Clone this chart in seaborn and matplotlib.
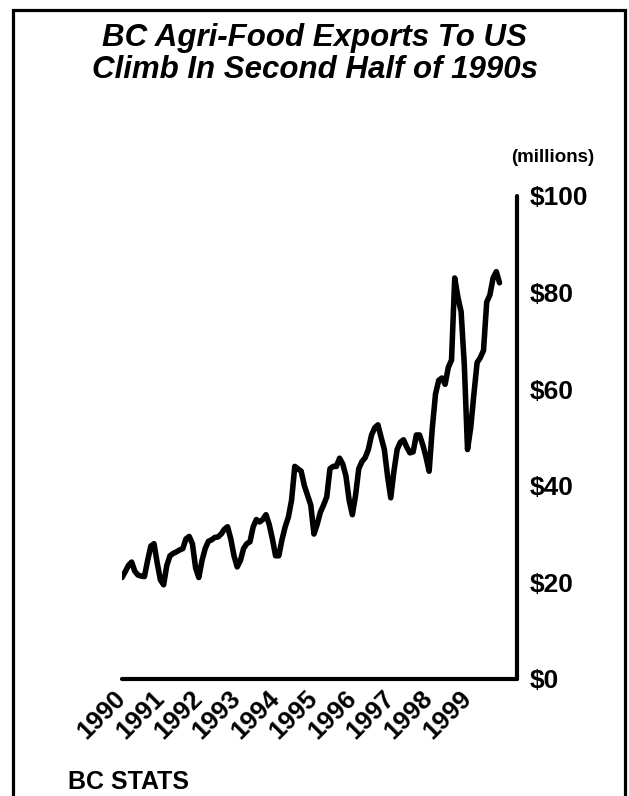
import numpy as np
import pandas as pd
import matplotlib
matplotlib.use("Agg")
import matplotlib.pyplot as plt
from matplotlib.patches import Rectangle
import seaborn as sns

# ---- data (monthly exports, $ millions) ----
exp_1990 = [21, 22.2, 23.5, 24.2, 22.3, 21.5, 21.3, 21.2, 24.5, 27.5, 28, 24]
exp_1991 = [20.5, 19.5, 23.5, 25.5, 26, 26.3, 26.7, 27, 29, 29.5, 28, 23]
exp_1992 = [21, 24.5, 27, 28.5, 28.8, 29.3, 29.4, 30, 31, 31.5, 29, 25.5]
exp_1993 = [23.2, 24.5, 27, 28, 28.4, 31.5, 33, 32.5, 33, 34, 32, 29]
exp_1994 = [25.5, 25.5, 28.8, 31.5, 33.5, 37, 44, 43.5, 43, 40, 38, 36]
exp_1995 = [30, 32, 34.5, 36, 37.7, 43.5, 44, 44, 45.7, 44.5, 42, 37]
exp_1996 = [34, 38, 43.5, 45, 45.8, 47.5, 50.5, 52, 52.6, 50, 47.5, 42]
exp_1997 = [37.5, 43, 47.5, 49, 49.5, 48, 46.8, 47, 50.5, 50.5, 48.5, 46]
exp_1998 = [43, 52, 59, 61.8, 62.3, 61, 64.5, 66, 83, 79, 76, 65]
exp_1999 = [47.5, 52, 59, 65.5, 66.5, 68, 78, 79.5, 83, 84.3, 82]

years = [1990, 1991, 1992, 1993, 1994, 1995, 1996, 1997, 1998, 1999]
year_labels = [str(y) for y in years]
y_ticks = [0, 20, 40, 60, 80, 100]
y_labels = [r"\$0", r"\$20", r"\$40", r"\$60", r"\$80", r"\$100"]

all_years = [exp_1990, exp_1991, exp_1992, exp_1993, exp_1994,
             exp_1995, exp_1996, exp_1997, exp_1998, exp_1999]
rows = []
for yr, vals in zip(years, all_years):
    for mi, v in enumerate(vals):
        rows.append({"date": yr + mi / 12.0, "value": v})
df = pd.DataFrame(rows)

# ---- styling ----
sns.set_theme(style="white")
plt.rcParams["font.family"] = ["Liberation Sans", "DejaVu Sans"]
plt.rcParams["text.color"] = "black"
plt.rcParams["xtick.color"] = "black"
plt.rcParams["ytick.color"] = "black"

fig = plt.figure(figsize=(6.29, 7.96), dpi=100)
ax = fig.add_axes([0.194, 0.147, 0.628, 0.607])

sns.lineplot(data=df, x="date", y="value", color="black", linewidth=4,
             ax=ax, solid_joinstyle="round", solid_capstyle="round")

ax.set_xlim(1990, 2000.29)
ax.set_ylim(0, 100)

ax.yaxis.tick_right()
ax.set_yticks(y_ticks)
ax.set_yticklabels(y_labels, fontsize=19, fontweight="bold", color="black")
ax.set_xticks(years)
ax.set_xticklabels(year_labels, fontsize=18.5, fontweight="bold", color="black",
                   rotation=45, ha="right", va="center", rotation_mode="anchor")
ax.tick_params(axis="both", length=0)
ax.tick_params(axis="y", pad=9)
ax.tick_params(axis="x", pad=11)
ax.set_xlabel("")
ax.set_ylabel("")

for s in ["left", "top"]:
    ax.spines[s].set_visible(False)
for s in ["right", "bottom"]:
    ax.spines[s].set_visible(True)
    ax.spines[s].set_color("black")
    ax.spines[s].set_linewidth(3)
    ax.spines[s].set_capstyle("round")

# titles and notes
fig.text(0.5, 1 - 54 / 796, "BC Agri-Food Exports To US\nClimb In Second Half of 1990s",
         ha="center", va="center", fontsize=22.5, fontweight="bold",
         fontstyle="italic", linespacing=1.12, color="black")
fig.text(553 / 629, 1 - 157 / 796, "(millions)", ha="center", va="center",
         fontsize=13.5, fontweight="bold", color="black")
fig.text(68 / 629, 1 - 782 / 796, "BC STATS", ha="left", va="center",
         fontsize=18, fontweight="bold", color="black")

# frame around figure
fig.patches.append(Rectangle((13 / 629, -0.05), (625 - 13) / 629, 1 - 10 / 796 + 0.05,
                             transform=fig.transFigure, fill=False,
                             edgecolor="black", linewidth=2.3))

fig.savefig("out.png", dpi=100)
